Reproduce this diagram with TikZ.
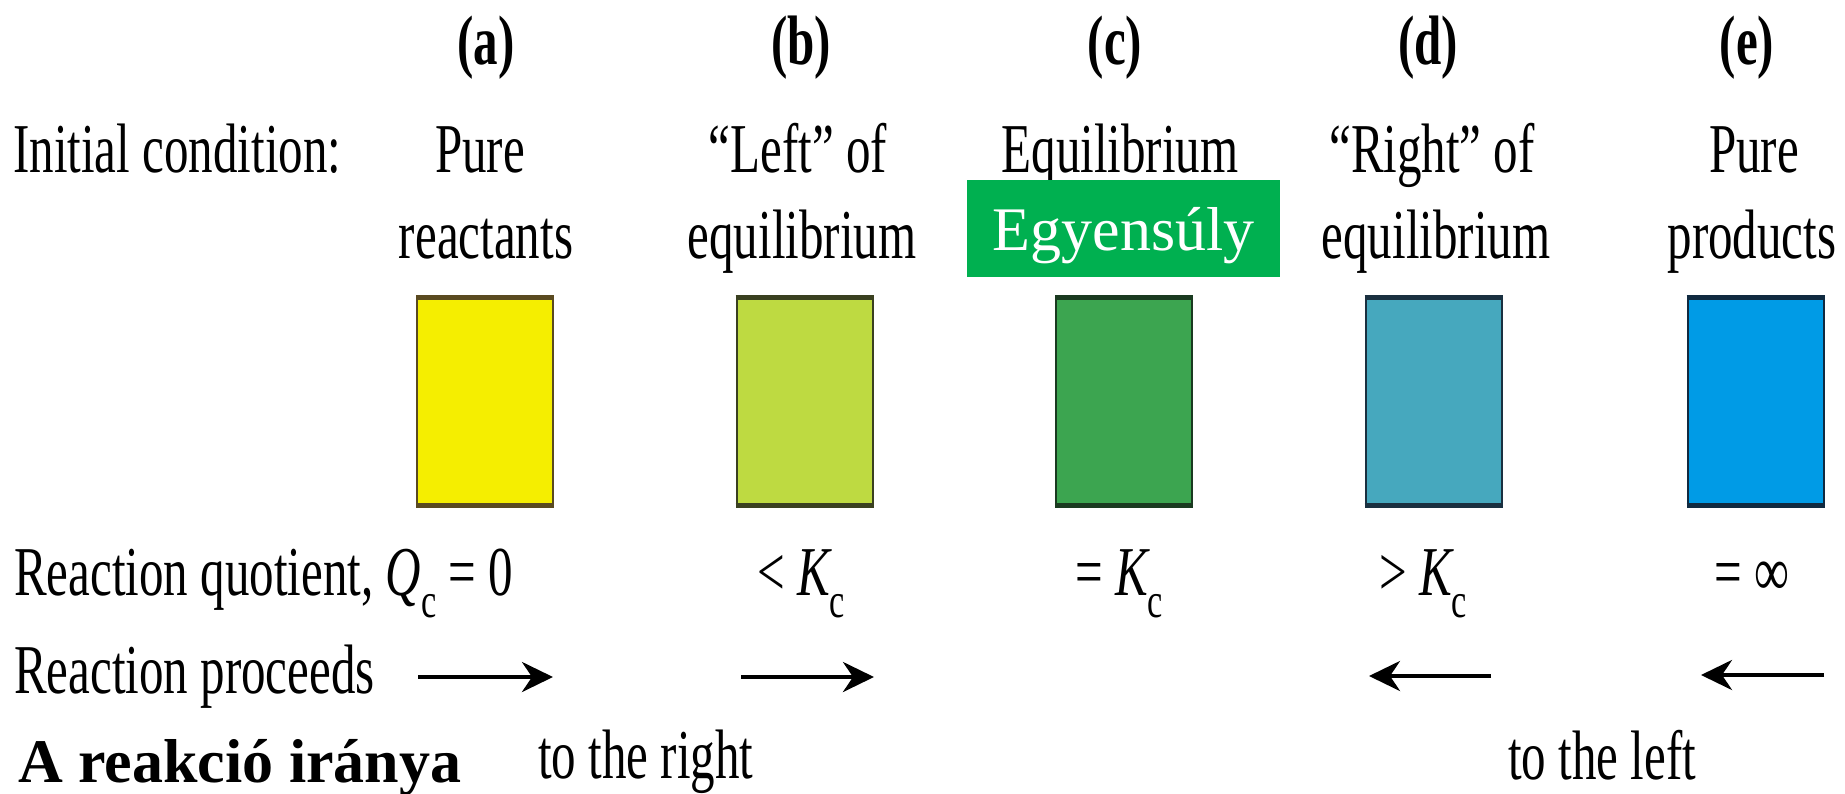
\documentclass[tikz,border=0pt]{standalone}
\usepackage{fontspec}
\setmainfont{Liberation Serif}
\newfontfamily\cond[FakeStretch=0.70]{Liberation Serif}
\usetikzlibrary{arrows.meta}
\definecolor{cya}{HTML}{F5EE00}
\definecolor{cyb}{HTML}{BEDA41}
\definecolor{cyc}{HTML}{3CA550}
\definecolor{cyd}{HTML}{46A8BE}
\definecolor{cye}{HTML}{009BE6}
\definecolor{bda}{HTML}{5A4A20}
\definecolor{bdb}{HTML}{3A4020}
\definecolor{bdc}{HTML}{1A3A20}
\definecolor{bdd}{HTML}{1A3040}
\definecolor{bde}{HTML}{102A40}
\definecolor{egygreen}{HTML}{00B050}
\newcommand{\subc}{\raisebox{-22pt}{\fontsize{49}{49}\selectfont c}}
\tikzset{
  txt/.style={inner sep=0pt, anchor=base, font=\cond\fontsize{70}{70}\selectfont},
  txtw/.style={txt, anchor=base west},
  ttl/.style={txt, font=\cond\bfseries\fontsize{70}{70}\selectfont},
  cbox/.style={draw=#1, line width=2pt, minimum width=136pt, minimum height=206pt, inner sep=0pt, anchor=north},
  edge/.style={draw=#1, line width=5pt},
  arr/.style={line width=4pt, -{Stealth[length=31pt,width=30pt,inset=10pt]}},
}
\begin{document}
\begin{tikzpicture}[x=1pt,y=-1pt]
\useasboundingbox (0,0) rectangle (1845,793);
% column titles
\node[ttl] (ta) at (486,64) {(a)};
\node[ttl] (tb) at (801,64) {(b)};
\node[ttl] (tc) at (1115,64) {(c)};
\node[ttl] (td) at (1428,64) {(d)};
\node[ttl] (te) at (1747,64) {(e)};
% initial condition row
\node[txtw] (ic) at (13,172) {Initial condition:};
\node[txt] (a1) at (480,172) {Pure};
\node[txt] (a2) at (486,258) {reactants};
\node[txt] (b1) at (798,172) {“Left” of};
\node[txt] (b2) at (802,258) {equilibrium};
\node[txt] (c1) at (1120,172) {Equilibrium};
\node[txt] (d1) at (1432,172) {“Right” of};
\node[txt] (d2) at (1436,258) {equilibrium};
\node[txt] (e1) at (1754,172) {Pure};
\node[txt] (e2) at (1752,258) {products};
% green label
\node[fill=egygreen, minimum width=313pt, minimum height=97pt, inner sep=0pt, anchor=north west] (egy) at (967,180) {};
\node[inner sep=0pt, anchor=base, text=white, font=\fontsize{62}{62}\selectfont] (egyt) at (1123.5,250) {Egyensúly};
% boxes
\node[cbox=bda, fill=cya] (ba) at (485,297) {};
\node[cbox=bdb, fill=cyb] (bb) at (804.5,297) {};
\node[cbox=bdc, fill=cyc] (bc) at (1124,297) {};
\node[cbox=bdd, fill=cyd] (bd) at (1433.5,297) {};
\node[cbox=bde, fill=cye] (be) at (1755.5,297) {};
\foreach \b/\c in {ba/bda,bb/bdb,bc/bdc,bd/bdd,be/bde}{
  \draw[edge=\c] (\b.north west) -- (\b.north east);
  \draw[edge=\c] (\b.south west) -- (\b.south east);
}
% reaction quotient row
\node[txtw] (rq) at (14,595) {Reaction quotient, {\itshape Q}\subc\ = 0};
\node[txtw] (qb) at (757,595) {< {\itshape K}\subc};
\node[txtw] (qc) at (1075,595) {= {\itshape K}\subc};
\node[txtw] (qd) at (1379,595) {> {\itshape K}\subc};
\node[txtw] (qe) at (1714,595) {= ∞};
% reaction proceeds row
\node[txtw] (rp) at (14,693) {Reaction proceeds};
\coordinate (aa0) at (418,677); \coordinate (aa1) at (553,677);
\coordinate (ab0) at (741,677); \coordinate (ab1) at (874,677);
\coordinate (ad0) at (1491,676); \coordinate (ad1) at (1369,676);
\coordinate (ae0) at (1824,675); \coordinate (ae1) at (1701,675);
\draw[arr] (aa0) -- (aa1);
\draw[arr] (ab0) -- (ab1);
\draw[arr] (ad0) -- (ad1);
\draw[arr] (ae0) -- (ae1);
% bottom row
\node[inner sep=0pt, anchor=base west, font=\bfseries\fontsize{62}{62}\selectfont] (hu) at (18,782) {A reakció iránya};
\node[txtw] (tr) at (538,778) {to the right};
\node[txtw] (tl) at (1508,779) {to the left};
\end{tikzpicture}
\end{document}
